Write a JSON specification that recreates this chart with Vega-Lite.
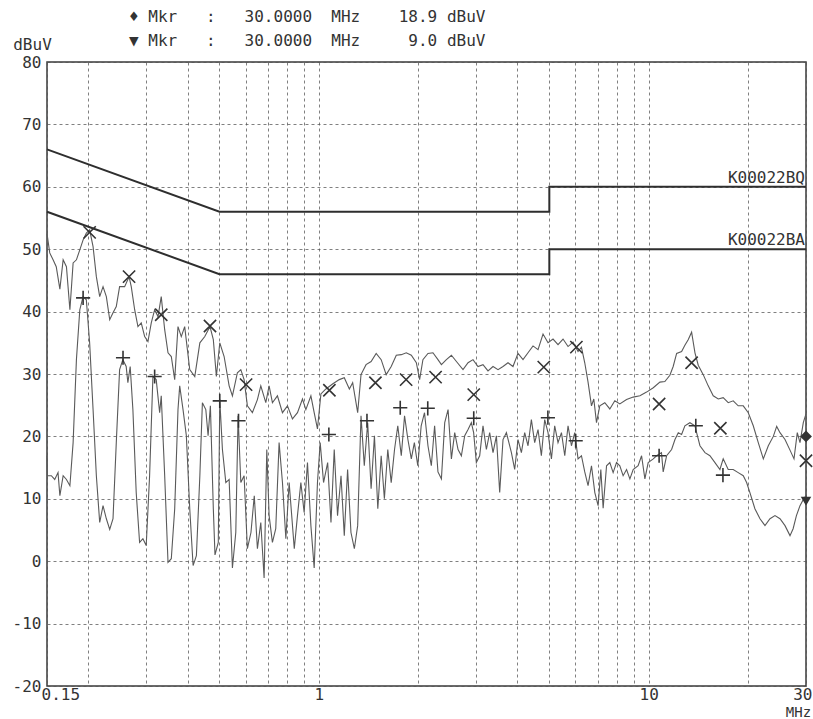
{
  "$schema": "https://vega.github.io/schema/vega-lite/v6.json",
  "width": 759,
  "height": 624,
  "autosize": {"type": "none"},
  "padding": {"left": 47, "top": 62, "right": 7, "bottom": 33},
  "background": "white",
  "config": {
    "view": {"stroke": "#3a3a3a", "strokeWidth": 1.5},
    "font": "DejaVu Sans Mono",
    "axis": {
      "labelFont": "DejaVu Sans Mono", "labelFontSize": 16, "labelColor": "#333",
      "titleFont": "DejaVu Sans Mono", "titleFontSize": 16, "titleFontWeight": "normal", "titleColor": "#333",
      "gridColor": "#555", "gridDash": [3, 3], "gridWidth": 1, "gridOpacity": 0.75,
      "ticks": false, "domain": false
    }
  },
  "title": {
    "text": [
      "♦\u00a0Mkr\u00a0\u00a0\u00a0:\u00a0\u00a0\u00a030.0000\u00a0\u00a0MHz\u00a0\u00a0\u00a0\u00a018.9\u00a0dBuV",
      "▼\u00a0Mkr\u00a0\u00a0\u00a0:\u00a0\u00a0\u00a030.0000\u00a0\u00a0MHz\u00a0\u00a0\u00a0\u00a0\u00a09.0\u00a0dBuV"
    ],
    "anchor": "start", "frame": "group", "dx": 82, "offset": -13,
    "font": "DejaVu Sans Mono", "fontSize": 16, "fontWeight": "normal", "color": "#333", "lineHeight": 24
  },
  "datasets": {
    "peak": [
      {"f":0.15,"v":52.5},{"f":0.1529,"v":49.4},{"f":0.1565,"v":48.3},{"f":0.16,"v":47.2},{"f":0.1641,"v":43.6},{"f":0.1679,"v":48.3},{"f":0.1718,"v":47.2},{"f":0.176,"v":40.3},{"f":0.18,"v":47.8},{"f":0.1842,"v":48.3},{"f":0.1886,"v":49.9},{"f":0.193,"v":51.5},{"f":0.1974,"v":52.6},{"f":0.202,"v":53.1},{"f":0.2069,"v":50.4},{"f":0.2117,"v":45.6},{"f":0.2167,"v":42.4},{"f":0.2218,"v":44.0},{"f":0.227,"v":42.4},{"f":0.2324,"v":38.7},{"f":0.2378,"v":39.8},{"f":0.2433,"v":40.8},{"f":0.249,"v":44.0},{"f":0.2579,"v":44.0},{"f":0.266,"v":45.6},{"f":0.2701,"v":44.0},{"f":0.2766,"v":40.3},{"f":0.283,"v":37.6},{"f":0.2896,"v":38.2},{"f":0.2966,"v":36.0},{"f":0.3035,"v":35.2},{"f":0.3106,"v":38.2},{"f":0.318,"v":40.3},{"f":0.3256,"v":39.2},{"f":0.333,"v":42.4},{"f":0.3411,"v":37.1},{"f":0.3491,"v":33.4},{"f":0.3572,"v":32.8},{"f":0.3658,"v":29.1},{"f":0.3743,"v":37.6},{"f":0.383,"v":36.0},{"f":0.3922,"v":37.6},{"f":0.4063,"v":30.7},{"f":0.4208,"v":29.6},{"f":0.436,"v":35.0},{"f":0.4513,"v":36.0},{"f":0.468,"v":37.6},{"f":0.479,"v":35.5},{"f":0.4893,"v":29.6},{"f":0.5011,"v":35.0},{"f":0.5165,"v":32.8},{"f":0.5349,"v":28.1},{"f":0.5473,"v":26.5},{"f":0.5666,"v":30.2},{"f":0.5803,"v":30.7},{"f":0.5938,"v":29.1},{"f":0.6076,"v":24.9},{"f":0.6292,"v":23.8},{"f":0.6516,"v":25.9},{"f":0.6672,"v":28.1},{"f":0.6909,"v":25.4},{"f":0.7071,"v":28.1},{"f":0.7236,"v":25.4},{"f":0.7493,"v":26.5},{"f":0.7761,"v":23.8},{"f":0.8037,"v":24.9},{"f":0.8322,"v":22.8},{"f":0.8618,"v":23.8},{"f":0.8925,"v":26.0},{"f":0.9139,"v":24.3},{"f":0.9465,"v":26.5},{"f":0.9685,"v":23.8},{"f":0.991,"v":21.2},{"f":1.015,"v":26.8},{"f":1.051,"v":27.6},{"f":1.101,"v":28.4},{"f":1.154,"v":29.1},{"f":1.195,"v":29.4},{"f":1.238,"v":27.6},{"f":1.267,"v":28.6},{"f":1.312,"v":23.8},{"f":1.343,"v":29.9},{"f":1.391,"v":31.5},{"f":1.441,"v":32.0},{"f":1.493,"v":33.3},{"f":1.546,"v":32.3},{"f":1.601,"v":29.9},{"f":1.658,"v":31.2},{"f":1.718,"v":33.0},{"f":1.779,"v":33.1},{"f":1.842,"v":33.4},{"f":1.908,"v":33.0},{"f":1.976,"v":31.8},{"f":2.022,"v":29.1},{"f":2.069,"v":32.3},{"f":2.143,"v":33.3},{"f":2.219,"v":33.4},{"f":2.298,"v":32.3},{"f":2.354,"v":31.5},{"f":2.437,"v":32.3},{"f":2.524,"v":33.0},{"f":2.614,"v":32.0},{"f":2.737,"v":30.7},{"f":2.835,"v":31.8},{"f":2.935,"v":32.3},{"f":3.039,"v":31.2},{"f":3.147,"v":31.5},{"f":3.259,"v":30.5},{"f":3.375,"v":31.2},{"f":3.495,"v":30.7},{"f":3.619,"v":31.2},{"f":3.747,"v":31.8},{"f":3.88,"v":31.2},{"f":4.018,"v":33.3},{"f":4.161,"v":32.3},{"f":4.309,"v":33.4},{"f":4.462,"v":34.5},{"f":4.621,"v":33.9},{"f":4.785,"v":36.4},{"f":4.955,"v":35.0},{"f":5.131,"v":35.6},{"f":5.313,"v":34.7},{"f":5.502,"v":35.6},{"f":5.698,"v":34.4},{"f":5.9,"v":35.1},{"f":6.11,"v":33.6},{"f":6.257,"v":34.3},{"f":6.403,"v":31.8},{"f":6.552,"v":28.7},{"f":6.711,"v":24.9},{"f":6.82,"v":26.0},{"f":6.95,"v":22.2},{"f":7.112,"v":24.9},{"f":7.365,"v":25.4},{"f":7.627,"v":24.4},{"f":7.898,"v":25.7},{"f":8.179,"v":25.2},{"f":8.573,"v":25.9},{"f":8.978,"v":26.3},{"f":9.41,"v":26.5},{"f":9.859,"v":27.1},{"f":10.33,"v":27.8},{"f":10.82,"v":28.7},{"f":11.2,"v":28.8},{"f":11.6,"v":29.8},{"f":11.87,"v":31.2},{"f":12.16,"v":33.3},{"f":12.59,"v":33.6},{"f":12.88,"v":34.6},{"f":13.18,"v":35.5},{"f":13.5,"v":36.7},{"f":13.82,"v":33.4},{"f":14.14,"v":31.4},{"f":14.64,"v":29.9},{"f":15.16,"v":28.1},{"f":15.7,"v":26.5},{"f":16.26,"v":26.0},{"f":16.83,"v":26.2},{"f":17.43,"v":25.4},{"f":18.05,"v":25.7},{"f":18.69,"v":24.9},{"f":19.36,"v":24.9},{"f":20.05,"v":23.8},{"f":20.76,"v":21.7},{"f":21.5,"v":19.0},{"f":22.27,"v":16.4},{"f":23.06,"v":18.5},{"f":23.88,"v":20.0},{"f":24.45,"v":21.6},{"f":25.02,"v":20.6},{"f":25.91,"v":19.5},{"f":26.83,"v":17.8},{"f":27.59,"v":16.4},{"f":28.23,"v":20.6},{"f":28.77,"v":19.0},{"f":29.44,"v":22.2},{"f":30,"v":23.6}
    ],
    "avg": [
      {"f":0.15,"v":16.9},{"f":0.1505,"v":13.7},{"f":0.1546,"v":13.7},{"f":0.1583,"v":13.1},{"f":0.162,"v":14.2},{"f":0.1641,"v":10.5},{"f":0.1679,"v":13.7},{"f":0.1718,"v":13.1},{"f":0.176,"v":12.1},{"f":0.18,"v":19.0},{"f":0.1842,"v":32.3},{"f":0.1886,"v":40.3},{"f":0.193,"v":42.4},{"f":0.1974,"v":41.9},{"f":0.202,"v":35.0},{"f":0.2069,"v":24.3},{"f":0.2117,"v":13.7},{"f":0.2167,"v":6.2},{"f":0.2218,"v":8.9},{"f":0.227,"v":6.8},{"f":0.2324,"v":5.1},{"f":0.2378,"v":6.8},{"f":0.2433,"v":19.0},{"f":0.249,"v":30.7},{"f":0.2547,"v":32.3},{"f":0.2607,"v":31.2},{"f":0.2638,"v":28.6},{"f":0.2681,"v":31.2},{"f":0.2732,"v":24.3},{"f":0.2796,"v":11.0},{"f":0.2863,"v":3.0},{"f":0.293,"v":3.6},{"f":0.2998,"v":2.5},{"f":0.307,"v":13.7},{"f":0.3142,"v":29.6},{"f":0.3215,"v":29.1},{"f":0.3293,"v":23.8},{"f":0.333,"v":26.5},{"f":0.3411,"v":13.7},{"f":0.3491,"v":-0.2},{"f":0.3572,"v":0.4},{"f":0.3658,"v":8.4},{"f":0.3743,"v":24.3},{"f":0.3788,"v":28.1},{"f":0.3877,"v":24.3},{"f":0.3968,"v":20.1},{"f":0.4063,"v":8.4},{"f":0.4159,"v":-0.7},{"f":0.4256,"v":0.9},{"f":0.436,"v":13.7},{"f":0.4438,"v":25.4},{"f":0.4545,"v":24.3},{"f":0.4618,"v":20.1},{"f":0.4693,"v":24.9},{"f":0.479,"v":8.4},{"f":0.4846,"v":1.0},{"f":0.4959,"v":3.0},{"f":0.5011,"v":25.9},{"f":0.5104,"v":17.9},{"f":0.5227,"v":12.6},{"f":0.5349,"v":13.1},{"f":0.5473,"v":-1.1},{"f":0.5603,"v":4.6},{"f":0.5694,"v":23.3},{"f":0.5803,"v":12.6},{"f":0.5938,"v":13.7},{"f":0.6076,"v":2.0},{"f":0.6229,"v":4.6},{"f":0.6375,"v":10.5},{"f":0.6516,"v":2.0},{"f":0.6672,"v":6.2},{"f":0.6828,"v":-2.7},{"f":0.6957,"v":17.9},{"f":0.7071,"v":7.3},{"f":0.7236,"v":3.0},{"f":0.7406,"v":5.2},{"f":0.7581,"v":19.0},{"f":0.7761,"v":12.6},{"f":0.7947,"v":3.6},{"f":0.8132,"v":12.6},{"f":0.8429,"v":2.0},{"f":0.8618,"v":7.3},{"f":0.8825,"v":12.6},{"f":0.903,"v":7.8},{"f":0.9242,"v":15.8},{"f":0.9465,"v":5.7},{"f":0.9685,"v":-1.1},{"f":0.991,"v":12.6},{"f":1.01,"v":19.0},{"f":1.034,"v":12.6},{"f":1.064,"v":15.8},{"f":1.089,"v":6.2},{"f":1.114,"v":17.9},{"f":1.14,"v":7.3},{"f":1.168,"v":13.7},{"f":1.195,"v":4.1},{"f":1.223,"v":14.7},{"f":1.252,"v":4.6},{"f":1.282,"v":2.0},{"f":1.312,"v":5.7},{"f":1.343,"v":23.3},{"f":1.374,"v":15.3},{"f":1.407,"v":22.2},{"f":1.441,"v":11.6},{"f":1.475,"v":20.1},{"f":1.51,"v":8.4},{"f":1.546,"v":16.9},{"f":1.581,"v":10.0},{"f":1.619,"v":17.9},{"f":1.658,"v":12.6},{"f":1.697,"v":17.9},{"f":1.736,"v":21.7},{"f":1.779,"v":16.9},{"f":1.82,"v":23.3},{"f":1.863,"v":19.5},{"f":1.908,"v":16.4},{"f":1.949,"v":19.0},{"f":1.996,"v":15.3},{"f":2.044,"v":21.7},{"f":2.092,"v":23.8},{"f":2.143,"v":18.5},{"f":2.194,"v":15.3},{"f":2.245,"v":21.7},{"f":2.298,"v":14.3},{"f":2.354,"v":13.2},{"f":2.409,"v":22.2},{"f":2.466,"v":24.3},{"f":2.524,"v":16.4},{"f":2.583,"v":20.6},{"f":2.644,"v":17.9},{"f":2.706,"v":16.9},{"f":2.77,"v":20.1},{"f":2.835,"v":21.1},{"f":2.901,"v":22.2},{"f":2.948,"v":20.6},{"f":3.004,"v":15.8},{"f":3.075,"v":16.9},{"f":3.147,"v":21.7},{"f":3.222,"v":17.9},{"f":3.297,"v":20.6},{"f":3.375,"v":17.4},{"f":3.456,"v":20.1},{"f":3.536,"v":11.0},{"f":3.619,"v":19.5},{"f":3.705,"v":20.6},{"f":3.837,"v":17.4},{"f":3.926,"v":14.7},{"f":4.018,"v":19.5},{"f":4.114,"v":17.4},{"f":4.21,"v":20.6},{"f":4.309,"v":18.5},{"f":4.411,"v":22.7},{"f":4.514,"v":19.0},{"f":4.621,"v":21.1},{"f":4.73,"v":16.9},{"f":4.841,"v":22.7},{"f":4.955,"v":20.6},{"f":5.074,"v":16.4},{"f":5.191,"v":21.7},{"f":5.313,"v":19.0},{"f":5.442,"v":20.6},{"f":5.569,"v":16.9},{"f":5.698,"v":21.7},{"f":5.835,"v":18.5},{"f":5.971,"v":20.6},{"f":6.11,"v":16.4},{"f":6.257,"v":16.9},{"f":6.403,"v":14.3},{"f":6.552,"v":12.1},{"f":6.711,"v":15.3},{"f":6.869,"v":11.0},{"f":7.029,"v":8.9},{"f":7.163,"v":14.7},{"f":7.28,"v":8.5},{"f":7.455,"v":15.3},{"f":7.627,"v":15.8},{"f":7.806,"v":14.2},{"f":7.993,"v":15.8},{"f":8.179,"v":15.3},{"f":8.37,"v":13.7},{"f":8.573,"v":14.7},{"f":8.774,"v":13.2},{"f":8.978,"v":14.7},{"f":9.294,"v":15.3},{"f":9.52,"v":16.9},{"f":9.743,"v":13.2},{"f":9.97,"v":15.8},{"f":10.33,"v":16.4},{"f":10.57,"v":16.9},{"f":10.94,"v":17.4},{"f":11.07,"v":14.3},{"f":11.34,"v":16.9},{"f":11.74,"v":17.9},{"f":12.02,"v":19.5},{"f":12.3,"v":20.6},{"f":12.59,"v":20.3},{"f":12.88,"v":21.7},{"f":13.34,"v":22.2},{"f":13.82,"v":21.7},{"f":13.98,"v":20.6},{"f":14.31,"v":18.5},{"f":14.82,"v":17.4},{"f":15.34,"v":16.9},{"f":15.89,"v":15.8},{"f":16.45,"v":14.7},{"f":16.83,"v":16.4},{"f":17.43,"v":14.7},{"f":18.05,"v":14.7},{"f":18.69,"v":14.2},{"f":19.36,"v":13.7},{"f":19.82,"v":12.6},{"f":20.28,"v":11.0},{"f":21.0,"v":8.4},{"f":21.76,"v":6.8},{"f":22.53,"v":5.7},{"f":23.33,"v":6.8},{"f":24.16,"v":7.3},{"f":25.02,"v":6.8},{"f":25.91,"v":5.7},{"f":26.83,"v":4.1},{"f":27.42,"v":5.2},{"f":28.06,"v":7.3},{"f":28.77,"v":8.9},{"f":29.44,"v":9.9},{"f":30,"v":10.5}
    ],
    "limits": [
      {"f":0.15,"v":66,"lim":"QP","o":1},{"f":0.5,"v":56,"lim":"QP","o":2},{"f":5,"v":56,"lim":"QP","o":3},{"f":5,"v":60,"lim":"QP","o":4},{"f":30,"v":60,"lim":"QP","o":5},
      {"f":0.15,"v":56,"lim":"AV","o":1},{"f":0.5,"v":46,"lim":"AV","o":2},{"f":5,"v":46,"lim":"AV","o":3},{"f":5,"v":50,"lim":"AV","o":4},{"f":30,"v":50,"lim":"AV","o":5}
    ],
    "qp": [
      {"f":0.202,"v":52.7},{"f":0.266,"v":45.6},{"f":0.333,"v":39.5},{"f":0.468,"v":37.7},{"f":0.602,"v":28.3},{"f":1.077,"v":27.4},{"f":1.485,"v":28.6},{"f":1.84,"v":29.1},{"f":2.26,"v":29.5},{"f":2.95,"v":26.7},{"f":4.81,"v":31.1},{"f":6.04,"v":34.3},{"f":10.76,"v":25.2},{"f":13.5,"v":31.8},{"f":16.5,"v":21.3},{"f":30,"v":16.1}
    ],
    "av": [
      {"f":0.193,"v":42.2},{"f":0.255,"v":32.6},{"f":0.318,"v":29.6},{"f":0.501,"v":25.7},{"f":0.571,"v":22.5},{"f":1.073,"v":20.3},{"f":1.4,"v":22.5},{"f":1.766,"v":24.6},{"f":2.14,"v":24.5},{"f":2.95,"v":22.9},{"f":4.95,"v":23.0},{"f":6.01,"v":19.3},{"f":10.76,"v":16.9},{"f":13.9,"v":21.7},{"f":16.8,"v":13.8}
    ],
    "mk1": [{"f":30,"v":20.0}],
    "mk2": [{"f":30,"v":9.6}],
    "lbl": [{"f":30,"v":60,"t":"K00022BQ"},{"f":30,"v":50,"t":"K00022BA"}]
  },
  "encoding": {
    "x": {
      "field": "f", "type": "quantitative",
      "scale": {"type": "log", "domain": [0.15, 30], "nice": false},
      "axis": {
        "values": [0.15,0.2,0.3,0.4,0.5,0.6,0.7,0.8,0.9,1,2,3,4,5,6,7,8,9,10,20,30],
        "labelExpr": "datum.value == 0.15 ? '0.15' : datum.value == 1 ? '1' : datum.value == 10 ? '10' : datum.value == 30 ? '30' : ''",
        "labelOverlap": false, "labelFlush": true, "labelFlushOffset": 6, "labelPadding": 0,
        "grid": true,
        "title": "MHz", "titleX": 751, "titleY": 33, "titleFontSize": 14, "titleAlign": "center", "titleBaseline": "bottom"
      }
    },
    "y": {
      "field": "v", "type": "quantitative",
      "scale": {"domain": [-20, 80], "nice": false, "zero": false},
      "axis": {
        "values": [-20,-10,0,10,20,30,40,50,60,70,80],
        "labelExpr": "datum.value + ''",
        "labelPadding": 6, "grid": true,
        "title": "dBuV", "titleAngle": 0, "titleX": -15, "titleY": -18, "titleAlign": "center", "titleBaseline": "middle"
      }
    }
  },
  "layer": [
    {"data": {"name": "limits"}, "mark": {"type": "line", "color": "#2e2e2e", "strokeWidth": 2}, "encoding": {"detail": {"field": "lim"}, "order": {"field": "o", "type": "quantitative"}}},
    {"data": {"name": "peak"}, "mark": {"type": "line", "color": "#5a5a5a", "strokeWidth": 1.1}, "encoding": {}},
    {"data": {"name": "avg"}, "mark": {"type": "line", "color": "#5a5a5a", "strokeWidth": 1.1}, "encoding": {}},
    {"data": {"name": "qp"}, "mark": {"type": "point", "shape": "M-1,-1L1,1M-1,1L1,-1", "filled": false, "color": "#333", "strokeWidth": 1.6, "size": 150, "opacity": 1}},
    {"data": {"name": "av"}, "mark": {"type": "point", "shape": "M-1,0L1,0M0,-1L0,1", "filled": false, "color": "#333", "strokeWidth": 1.6, "size": 200, "opacity": 1}},
    {"data": {"name": "mk1"}, "mark": {"type": "point", "shape": "diamond", "filled": true, "color": "#333", "size": 140, "opacity": 1}},
    {"data": {"name": "mk2"}, "mark": {"type": "point", "shape": "triangle-down", "filled": true, "color": "#333", "size": 110, "opacity": 1}},
    {"data": {"name": "lbl"}, "mark": {"type": "text", "align": "right", "baseline": "alphabetic", "dx": -1, "dy": -4, "font": "DejaVu Sans Mono", "fontSize": 16, "color": "#333"}, "encoding": {"text": {"field": "t"}}}
  ]
}
